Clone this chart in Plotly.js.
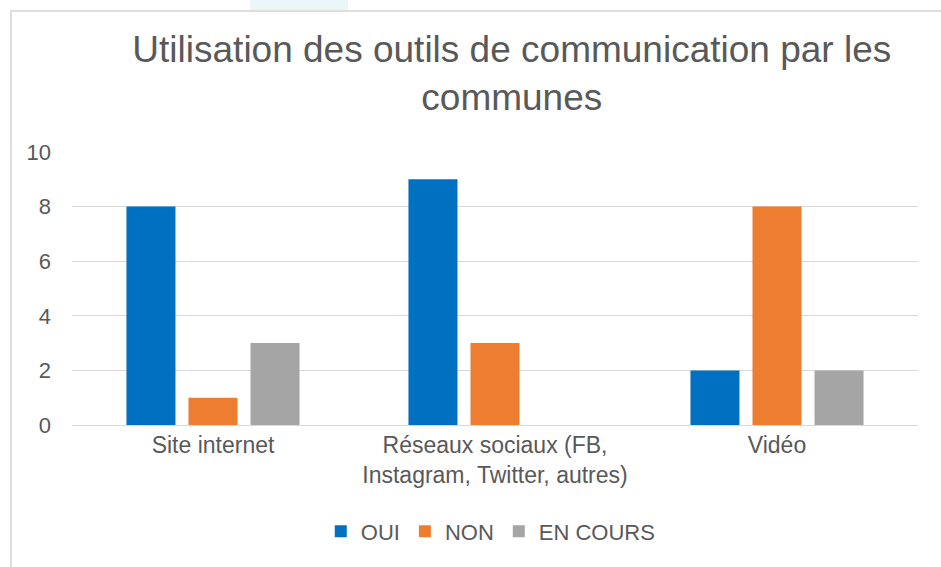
<!DOCTYPE html>
<html>
<head>
<meta charset="utf-8">
<script src="https://cdn.plot.ly/plotly-3.0.1.min.js"></script>
<style>
  html, body { margin: 0; padding: 0; background: #ffffff; width: 941px; height: 567px; overflow: hidden; }
  #deco { position: absolute; left: 250px; top: 0; width: 98px; height: 10px; background: #eaf6f7; }
  #frame { position: absolute; left: 10px; top: 10px; width: 931px; height: 557px; border-left: 2px solid #dedede; border-top: 2px solid #dedede; box-sizing: border-box; }
  #chart { width: 929px; height: 555px; }
</style>
</head>
<body>
<div id="deco"></div>
<div id="frame"><div id="chart"></div></div>
<script>
const categories = ["Site internet", "Réseaux sociaux (FB,<br>Instagram, Twitter, autres)", "Vidéo"];
const seriesNames = ["OUI", "NON", "EN COURS"];
const oui = [8, 9, 2];
const non = [1, 3, 8];
const enCours = [3, 0, 2];
const yTicks = [0, 2, 4, 6, 8, 10];

const colors = ["#0070C0", "#ED7D31", "#A5A5A5"];
const values = [oui, non, enCours];

const traces = values.map((v, i) => ({
  type: "bar",
  name: seriesNames[i],
  x: categories,
  y: v,
  marker: { color: colors[i] },
  hoverinfo: "x+y+name"
}));

const layout = {
  width: 929,
  height: 555,
  margin: { l: 60, r: 23, t: 140, b: 142 },
  paper_bgcolor: "#ffffff",
  plot_bgcolor: "#ffffff",
  font: { family: "Liberation Sans, Arial, sans-serif", color: "#595959", size: 22 },
  title: {
    text: "Utilisation des outils de communication par les<br>communes",
    font: { size: 37, color: "#595959", family: "Liberation Sans, Arial, sans-serif" },
    xref: "container", x: 0.538, xanchor: "center",
    yref: "container", y: 0.91, yanchor: "top"
  },
  barmode: "group",
  bargap: 0.34,
  bargroupgap: 0.21,
  xaxis: {
    showgrid: false,
    showline: false,
    ticks: "",
    tickfont: { size: 23, color: "#595959" },
    ticklabelstandoff: 4
  },
  yaxis: {
    range: [0, 10],
    tickvals: yTicks,
    ticktext: yTicks.map(String),
    showgrid: true,
    gridcolor: "#d9d9d9",
    gridwidth: 1,
    zeroline: true,
    zerolinecolor: "#d9d9d9",
    zerolinewidth: 1,
    showline: false,
    ticks: "",
    tickfont: { size: 22, color: "#595959" },
    ticklabelstandoff: 20
  },
  showlegend: true,
  legend: {
    orientation: "h",
    x: 0.495, xanchor: "center",
    y: -0.39, yanchor: "middle",
    font: { size: 22, color: "#595959" },
    itemwidth: 30,
    traceorder: "normal"
  }
};

Plotly.newPlot("chart", traces, layout, { displayModeBar: false, staticPlot: true });
</script>
</body>
</html>
